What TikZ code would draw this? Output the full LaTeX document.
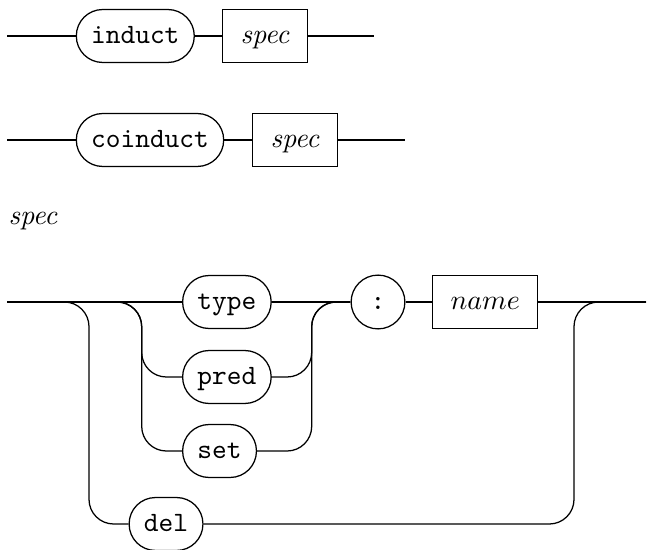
\documentclass[tikz,border=0pt]{standalone}
\usepackage{tikz}
\usetikzlibrary{calc}

\tikzset{
    track/.style={line width=0.45pt,rounded corners=8.8pt},
    term/.style={draw,line width=0.45pt,rounded corners=9.4pt,minimum height=18.9pt,inner xsep=5.3pt,text height=6.5pt,text depth=1.2pt,font=\ttfamily},
    colonterm/.style={draw,line width=0.45pt,circle,minimum size=19.2pt,inner sep=0pt,text height=6.5pt,text depth=1.2pt,font=\ttfamily},
    nonterm/.style={draw,line width=0.45pt,rectangle,minimum height=18.9pt,inner xsep=6.4pt,text height=6.5pt,text depth=1.2pt},
}

\begin{document}
\begin{tikzpicture}[x=0.357pt,y=-0.357pt]
    \useasboundingbox (0,0) rectangle (649,550);
    % induct
    \coordinate (s1) at (7,36);
    \node[term,anchor=west] (induct) at (75.7,36) {induct};
    \node[nonterm,anchor=west] (spec1) at (222,36) {\textit{spec}};
    \coordinate (e1) at (374,36);
    \draw[track] (s1) -- (induct) -- (spec1) -- (e1);
    % coinduct
    \coordinate (s2) at (7,140);
    \node[term,anchor=west] (coinduct) at (75.7,140) {coinduct};
    \node[nonterm,anchor=west] (spec2) at (252,140) {\textit{spec}};
    \coordinate (e2) at (405,140);
    \draw[track] (s2) -- (coinduct) -- (spec2) -- (e2);
    % spec
    \node[anchor=base west,inner sep=0pt] (speclabel) at (8,225) {\textit{spec}};
    \coordinate (s3) at (7,302);
    \coordinate (e3) at (646,302);
    \node[term,anchor=west] (type) at (182,302) {type};
    \node[term,anchor=west] (pred) at (182,377) {pred};
    \node[term,anchor=west] (set) at (182,451) {set};
    \node[term,anchor=west] (del) at (128.5,524) {del};
    \node[colonterm] (colon) at (378,302) {:};
    \node[nonterm,anchor=west] (name) at (432,302) {$name$};
    \coordinate (c1) at (89,302);
    \coordinate (c2) at (141.7,302);
    \coordinate (c3) at (311.7,302);
    \coordinate (c4) at (574,302);
    \draw[track] (s3) -- (type) -- (colon) -- (name) -- (e3);
    \draw[track] (s3) -| (c1 |- del) -- (del.west);
    \draw[track] (s3) -| (c2 |- pred) -- (pred.west);
    \draw[track] (s3) -| (c2 |- set) -- (set.west);
    \draw[track] (pred.east) -| (c3) -- (colon.west);
    \draw[track] (set.east) -| (c3) -- (colon.west);
    \draw[track] (del.east) -| (c4) -- (e3);
\end{tikzpicture}
\end{document}
